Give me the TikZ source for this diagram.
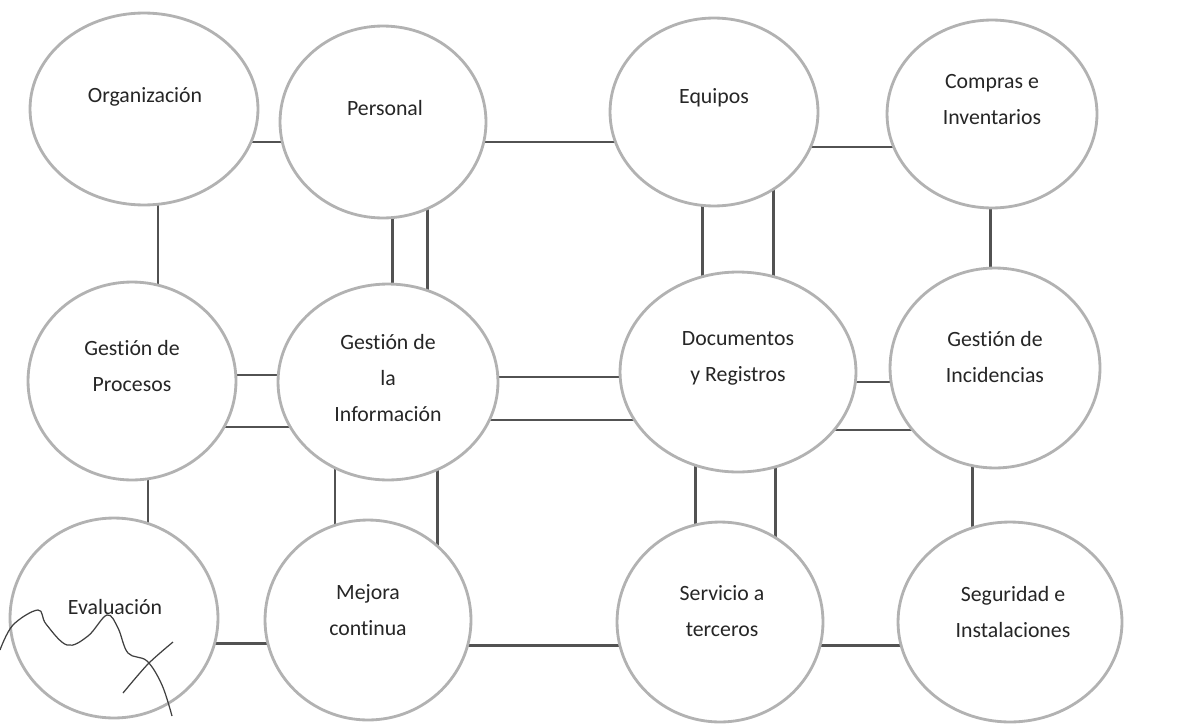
\documentclass[tikz,border=0pt]{standalone}
\usepackage{fontspec}
\setmainfont{Carlito}[Ligatures=NoCommon]
\usetikzlibrary{shapes.geometric,backgrounds}

\begin{document}
\begin{tikzpicture}[x=0.02cm, y=-0.02cm,
  bubble/.style={ellipse, draw=gray!60, line width=1.6pt, fill=white, inner sep=0pt, outer sep=0pt},
  txt/.style={align=center, text=black!85, font=\fontsize{12.4}{20.5}\selectfont},
  link/.style={draw=black!68, line width=1.7pt},
  scribble/.style={draw=black!75, line width=0.7pt}]

   \useasboundingbox (0,0) rectangle (1202,723);

   % ellipses
   \node[bubble, minimum width=4.56cm, minimum height=3.84cm] (org) at (144,109) {};
   \node[bubble, minimum width=4.12cm, minimum height=3.84cm] (per) at (383,122) {};
   \node[bubble, minimum width=4.16cm, minimum height=3.76cm] (equ) at (714,112) {};
   \node[bubble, minimum width=4.20cm, minimum height=3.76cm] (com) at (992,114) {};
   \node[bubble, minimum width=4.16cm, minimum height=3.96cm] (pro) at (132,381) {};
   \node[bubble, minimum width=4.40cm, minimum height=3.92cm] (inf) at (388,382) {};
   \node[bubble, minimum width=4.72cm, minimum height=4.00cm] (doc) at (738,372) {};
   \node[bubble, minimum width=4.20cm, minimum height=4.00cm] (inc) at (995,368) {};
   \node[bubble, minimum width=4.16cm, minimum height=4.00cm] (eva) at (114,618) {};
   \node[bubble, minimum width=4.12cm, minimum height=4.00cm] (mej) at (368,620) {};
   \node[bubble, minimum width=4.12cm, minimum height=4.00cm] (ser) at (720,622) {};
   \node[bubble, minimum width=4.48cm, minimum height=4.00cm] (seg) at (1010,622) {};

   % texts
   \node[txt] (orgT) at (145,97) {Organización};
   \node[txt] (perT) at (385,108) {Personal};
   \node[txt] (equT) at (714,98) {Equipos};
   \node[txt] (comT) at (992,100) {Compras e\\Inventarios};
   \node[txt] (proT) at (132,366) {Gestión de\\Procesos};
   \node[txt] (infT) at (388,378) {Gestión de\\la\\Información};
   \node[txt] (docT) at (738,358) {Documentos\\y Registros};
   \node[txt] (incT) at (995,357) {Gestión de\\Incidencias};
   \node[txt] (evaT) at (115,607) {Evaluación};
   \node[txt] (mejT) at (368,610) {Mejora\\continua};
   \node[txt] (serT) at (722,611) {Servicio a\\terceros};
   \node[txt] (segT) at (1013,612) {Seguridad e\\Instalaciones};

   % connectors
   \begin{scope}[on background layer]
   \foreach \a/\b/\y in {org/per/142, per/equ/142, equ/com/147,
                         pro/inf/375, pro/inf/427, inf/doc/377, inf/doc/420,
                         doc/inc/382, doc/inc/430,
                         eva/mej/643, mej/ser/645, ser/seg/645}
    {
      \draw[link] (\a.center |- 0,\y) -- (\b.center |- 0,\y);
    }
   \foreach \a/\b/\x in {org/pro/158, per/inf/392, per/inf/427,
                         equ/doc/702, equ/doc/773, com/inc/990,
                         pro/eva/148, inf/mej/335, inf/mej/437,
                         doc/ser/695, doc/ser/775, inc/seg/972}
    {
      \draw[link] (\a.center -| \x,0) -- (\b.center -| \x,0);
    }
   \end{scope}

   % scribble
   \draw[scribble] plot[smooth, tension=0.6] coordinates {(0,650) (13,625) (38,610) (46,624)
     (67,645) (88,636) (107,615) (118,628) (128,653) (147,661) (162,685) (172,716)};
   \draw[scribble] plot[smooth] coordinates {(123,693) (148,664) (173,642)};

\end{tikzpicture}
\end{document}
